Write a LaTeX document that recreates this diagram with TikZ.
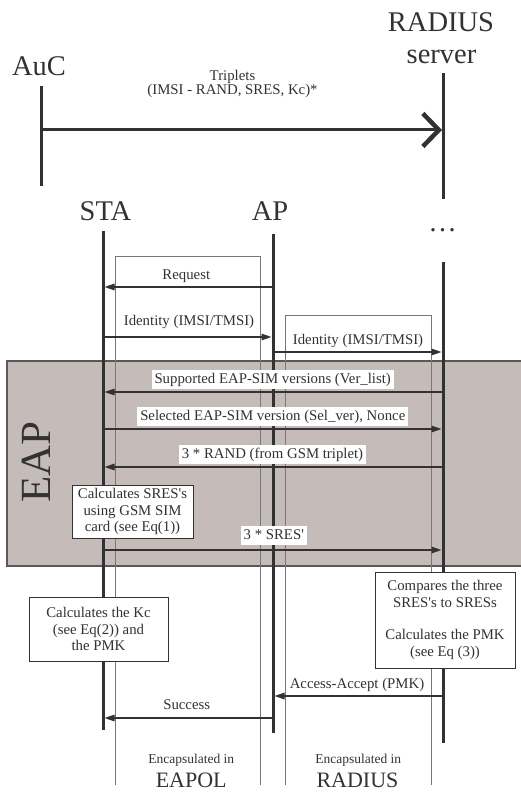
\documentclass[tikz,border=0pt]{standalone}
\usepackage{fontspec}
\setmainfont{Liberation Serif}
\usetikzlibrary{arrows.meta}
\definecolor{band}{RGB}{197,188,186}
\definecolor{ink}{RGB}{50,50,50}
\definecolor{thin}{RGB}{120,120,120}
\begin{document}
\begin{tikzpicture}[x=1pt,y=-1pt,
  life/.style={line width=3pt, draw=ink},
  msg/.style={line width=1.3pt, draw=ink, -{Triangle[length=10pt,width=6.5pt]}, shorten >=1.5pt},
  lbl/.style={font=\fontsize{14.8}{16.3}\selectfont, text=ink, inner sep=0pt, anchor=base},
  wlbl/.style={lbl, fill=white, inner xsep=3pt, inner ysep=2pt, text height=11pt, text depth=3.5pt},
  big/.style={font=\fontsize{28.5}{30}\selectfont, text=ink, inner sep=0pt, anchor=base},
  encbig/.style={font=\fontsize{22}{24}\selectfont, text=ink, inner sep=0pt, anchor=base},
  encsmall/.style={font=\fontsize{13.5}{15}\selectfont, text=ink, inner sep=0pt, anchor=base},
  calcbox/.style={draw=ink, line width=1pt, fill=white, align=center, text=ink,
    font=\fontsize{14.8}{16.3}\selectfont, inner sep=0pt},
  thinbox/.style={draw=thin, line width=0.9pt}
]
\useasboundingbox (0,0) rectangle (521,794);

% EAP band
\draw[fill=band, draw=black!65, line width=1.5pt] (7,361) rectangle (540,566);
\node[font=\fontsize{43}{45}\selectfont, text=ink, rotate=90, anchor=base, inner sep=0pt] (eapL) at (50,462) {EAP};

% encapsulation boxes (open at the bottom)
\coordinate (e1a) at (115,785); \coordinate (e1b) at (115,256);
\coordinate (e1c) at (260,256); \coordinate (e1d) at (260,785);
\draw[thinbox] (e1a) -- (e1b) -- (e1c) -- (e1d);
\coordinate (e2a) at (285,785); \coordinate (e2b) at (285,315);
\coordinate (e2c) at (431,315); \coordinate (e2d) at (431,785);
\draw[thinbox] (e2a) -- (e2b) -- (e2c) -- (e2d);

% top part
\node[big] (aucL) at (39,76) {AuC};
\node[big] (radL1) at (441,32) {RADIUS};
\node[big] (radL2) at (441.5,64) {server};
\coordinate (aucT) at (41,86); \coordinate (aucB) at (41,186);
\coordinate (radT) at (443,73); \coordinate (radB) at (443,199);
\draw[life] (aucT) -- (aucB);
\draw[life] (radT) -- (radB);
\coordinate (tripA) at (41,130); \coordinate (tripB) at (443,130);
\draw[line width=3pt, draw=ink, -{Straight Barb[length=16pt,width=33pt,line width=4.5pt]}, shorten >=1pt] (tripA) -- (tripB);
\node[font=\fontsize{14.8}{12.7}\selectfont, text=ink, inner sep=0pt, align=center, anchor=base] (tripL) at (232.5,95)
  {Triplets\\(IMSI - RAND, SRES, Kc)*};

% lower lifelines
\node[big] (staL) at (105.5,221) {STA};
\node[big] (apL) at (270,221) {AP};
\node[big] (dotsL) at (442.5,231) {…};
\coordinate (staT) at (103,231); \coordinate (staB) at (103,730);
\coordinate (apT) at (273,234); \coordinate (apB) at (273,733);
\coordinate (srvT) at (443,262); \coordinate (srvB) at (443,743);
\draw[life] (staT) -- (staB);
\draw[life] (apT) -- (apB);
\draw[life] (srvT) -- (srvB);

% messages
\coordinate (m1a) at (273,287); \coordinate (m1b) at (103,287);
\draw[msg] (m1a) -- (m1b);
\node[lbl] (m1L) at (186.3,279) {Request};

\coordinate (m2a) at (103,337); \coordinate (m2b) at (273,337);
\draw[msg] (m2a) -- (m2b);
\node[lbl] (m2L) at (189,325) {Identity (IMSI/TMSI)};

\coordinate (m3a) at (273,352); \coordinate (m3b) at (443,352);
\draw[msg] (m3a) -- (m3b);
\node[lbl] (m3L) at (358,344) {Identity (IMSI/TMSI)};

\coordinate (m4a) at (443,392); \coordinate (m4b) at (103,392);
\draw[msg] (m4a) -- (m4b);
\node[wlbl] (m4L) at (272.7,383) {Supported EAP-SIM versions (Ver\_list)};

\coordinate (m5a) at (103,429); \coordinate (m5b) at (443,429);
\draw[msg] (m5a) -- (m5b);
\node[wlbl] (m5L) at (272.8,420) {Selected EAP-SIM version (Sel\_ver), Nonce};

\coordinate (m6a) at (443,467); \coordinate (m6b) at (103,467);
\draw[msg] (m6a) -- (m6b);
\node[wlbl] (m6L) at (272.5,458) {3 * RAND (from GSM triplet)};

\coordinate (m7a) at (103,550); \coordinate (m7b) at (443,550);
\draw[msg] (m7a) -- (m7b);
\node[wlbl] (m7L) at (273.8,539) {3 * SRES\textquotesingle};

\coordinate (m8a) at (443,696); \coordinate (m8b) at (273,696);
\draw[msg] (m8a) -- (m8b);
\node[lbl] (m8L) at (357,688) {Access-Accept (PMK)};

\coordinate (m9a) at (273,718); \coordinate (m9b) at (103,718);
\draw[msg] (m9a) -- (m9b);
\node[lbl] (m9L) at (186.7,709) {Success};

% calculation boxes
\node[calcbox, minimum width=121pt, minimum height=53pt] (calc1) at (132.5,511.5)
  {Calculates SRES\textquotesingle s\\using GSM SIM\\card (see Eq(1))};
\node[calcbox, minimum width=139pt, minimum height=64pt] (calc2) at (98.5,629)
  {Calculates the Kc\\(see Eq(2)) and\\the PMK};
\node[calcbox, minimum width=140pt, minimum height=96pt] (calc3) at (445,620)
  {Compares the three\\SRES\textquotesingle s to SRESs\\[16.3pt]Calculates the PMK\\(see Eq (3))};

% bottom labels
\node[encsmall] (enc1a) at (191.2,763) {Encapsulated in};
\node[encbig] (enc1b) at (191.2,787) {EAPOL};
\node[encsmall] (enc2a) at (358.3,763) {Encapsulated in};
\node[encbig] (enc2b) at (357.5,787) {RADIUS};
\end{tikzpicture}
\end{document}
